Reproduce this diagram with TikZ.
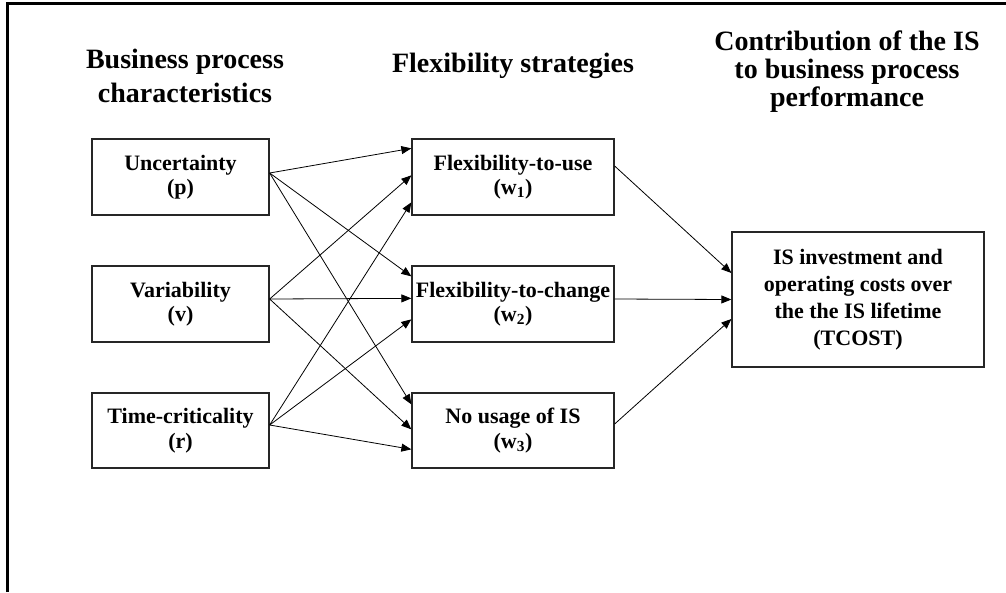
\documentclass[tikz,border=0pt]{standalone}
\usepackage{fontspec}
\setmainfont{Liberation Serif}
\usetikzlibrary{arrows.meta}
\begin{document}
\begin{tikzpicture}[x=1pt,y=-1pt,
  box/.style={draw=black!85, line width=1.3pt, inner sep=0pt, align=center,
    font=\fontsize{22}{24.5}\selectfont\bfseries},
  lbox/.style={box, minimum width=177pt, minimum height=76pt},
  mbox/.style={box, minimum width=202pt, minimum height=76pt},
  head/.style={inner sep=0pt, anchor=base, font=\fontsize{28}{34}\selectfont\bfseries},
  link/.style={line width=0.8pt, -{Triangle[length=10pt,width=8pt]}},
  frame/.style={line width=3pt},
]
\useasboundingbox (0,0) rectangle (1006,592);

% open frame: top and left edges
\draw[frame] (7,592) -- (7,3) -- (1006,3);

% column headings
\node[head] (h1a) at (185,68)  {Business process};
\node[head] (h1b) at (185,102) {characteristics};
\node[head] (h2)  at (513,72)  {Flexibility strategies};
\node[head] (h3a) at (847,50)  {Contribution of the IS};
\node[head] (h3b) at (847,78)  {to business process};
\node[head] (h3c) at (847,106) {performance};

% process characteristics
\node[lbox] (U) at (180.5,177) {Uncertainty\\(p)};
\node[lbox] (V) at (180.5,304) {Variability\\(v)};
\node[lbox, minimum height=75pt] (T) at (180.5,430.5) {Time-criticality\\(r)};

% flexibility strategies
\node[mbox] (w1) at (513,177) {Flexibility-to-use\\(w\textsubscript{1})};
\node[mbox] (w2) at (513,304) {Flexibility-to-change\\(w\textsubscript{2})};
\node[mbox, minimum height=75pt] (w3) at (513,430.5) {No usage of IS\\(w\textsubscript{3})};

% performance
\node[box, minimum width=252pt, minimum height=135pt,
      font=\fontsize{22}{27}\selectfont\bfseries] (R) at (858,299.5)
  {IS investment and\\operating costs over\\the the IS lifetime\\(TCOST)};

% connector end points
\coordinate (Uo) at ([yshift=4pt]U.east);
\coordinate (Vo) at ([yshift=5pt]V.east);
\coordinate (To) at ([yshift=5.5pt]T.east);
\coordinate (w1a) at ([yshift=-10pt]w1.north west);
\coordinate (w1b) at ([yshift=-37pt]w1.north west);
\coordinate (w1c) at ([yshift=-64pt]w1.north west);
\coordinate (w2a) at ([yshift=-11pt]w2.north west);
\coordinate (w2b) at ([yshift=-33pt]w2.north west);
\coordinate (w2c) at ([yshift=-54pt]w2.north west);
\coordinate (w3a) at ([yshift=-12pt]w3.north west);
\coordinate (w3b) at ([yshift=-37pt]w3.north west);
\coordinate (w3c) at ([yshift=-57pt]w3.north west);
\coordinate (w1o) at ([yshift=11pt]w1.east);
\coordinate (w2o) at ([yshift=5pt]w2.east);
\coordinate (w3o) at ([yshift=6.5pt]w3.east);
\coordinate (Ra) at ([yshift=26.5pt]R.west);
\coordinate (Rb) at (R.west);
\coordinate (Rc) at ([yshift=-19.5pt]R.west);

% characteristics -> strategies
\draw[link] (Uo) -- (w1a);
\draw[link] (Uo) -- (w2a);
\draw[link] (Uo) -- (w3a);
\draw[link] (Vo) -- (w1b);
\draw[link] (Vo) -- (w2b);
\draw[link] (Vo) -- (w3b);
\draw[link] (To) -- (w1c);
\draw[link] (To) -- (w2c);
\draw[link] (To) -- (w3c);

% strategies -> performance
\draw[link] (w1o) -- (Ra);
\draw[link] (w2o) -- (Rb);
\draw[link] (w3o) -- (Rc);
\end{tikzpicture}
\end{document}
